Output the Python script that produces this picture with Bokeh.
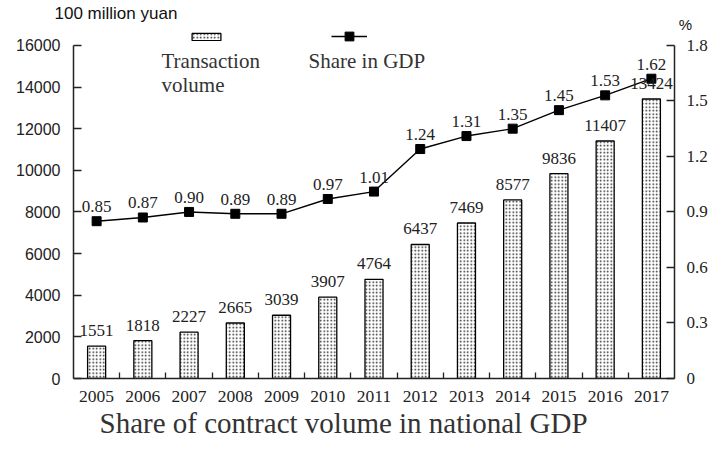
from bokeh.plotting import figure
from bokeh.models import (ColumnDataSource, Range1d, LinearAxis, FixedTicker, LabelSet,
                          Label, Legend, LegendItem, Title)
from bokeh.embed import file_html
from bokeh.resources import INLINE

# ---------------- data ----------------
years = ["2005", "2006", "2007", "2008", "2009", "2010", "2011",
         "2012", "2013", "2014", "2015", "2016", "2017"]
volume = [1551, 1818, 2227, 2665, 3039, 3907, 4764, 6437, 7469, 8577, 9836, 11407, 13424]
share = [0.85, 0.87, 0.90, 0.89, 0.89, 0.97, 1.01, 1.24, 1.31, 1.35, 1.45, 1.53, 1.62]
share_labels = ["0.85", "0.87", "0.90", "0.89", "0.89", "0.97", "1.01",
                "1.24", "1.31", "1.35", "1.45", "1.53", "1.62"]
left_ticks = [0, 2000, 4000, 6000, 8000, 10000, 12000, 14000, 16000]
right_ticks = [0, 0.3, 0.6, 0.9, 1.2, 1.5, 1.8]
right_tick_labels = ["0", "0.3", "0.6", "0.9", "1.2", "1.5", "1.8"]

SERIF = "Liberation Serif"
SANS = "Liberation Sans"

xs = list(range(1, len(years) + 1))
src = ColumnDataSource(dict(x=xs, vol=volume, vol_txt=[str(v) for v in volume],
                            share=share, share_txt=share_labels))

# layout (canvas pixels)
W, H = 708, 438
FL, FR = 73, 674           # frame left / right
FT, FB = 22, 378           # frame top / bottom
AXTOP = 43                 # pixel row of 16000 / 1.8
PX = (FB - AXTOP) / 16000  # px per unit of volume
YMAX = (FB - FT) / PX
RMAX = 1.8 * YMAX / 16000

p = figure(width=W, height=H, output_backend="svg", toolbar_location=None,
           x_range=Range1d(0.5, len(years) + 0.5), y_range=Range1d(0, YMAX),
           min_border_left=FL, min_border_right=W - FR, min_border_top=FT,
           min_border_bottom=H - FB)
p.extra_y_ranges = {"right": Range1d(0, RMAX)}
p.outline_line_color = None
p.xgrid.visible = False
p.ygrid.visible = False
p.background_fill_color = "white"

# unit label at top-left
p.title.text = "100 million yuan"
p.title.align = "left"
p.title.offset = -19
p.title.standoff = 3
p.title.text_font = SANS
p.title.text_font_size = "17px"
p.title.text_font_style = "normal"
p.title.text_color = "#111111"

bars = p.vbar(x="x", top="vol", width=0.39, source=src, fill_color="white",
              line_color="black", line_width=1.3, hatch_pattern="dot",
              hatch_color="#222222", hatch_scale=3.5, hatch_weight=1.0)

ln = p.line(x="x", y="share", source=src, y_range_name="right",
            line_color="black", line_width=1.4)
mk = p.scatter(x="x", y="share", source=src, y_range_name="right", marker="square",
               size=9, fill_color="black", line_color="black")

# ---------- axes ----------
ax_col = "#222222"
xa = p.xaxis[0]
xa.ticker = FixedTicker(ticks=xs, minor_ticks=[i + 0.5 for i in xs[:-1]])
xa.major_label_overrides = {i: y for i, y in zip(xs, years)}
xa.major_tick_in = 0
xa.major_tick_out = 0
xa.minor_tick_in = 6
xa.minor_tick_out = 0
xa.minor_tick_line_color = ax_col
xa.minor_tick_line_width = 1.3
xa.axis_line_color = ax_col
xa.axis_line_width = 1.5
xa.major_label_text_font = SERIF
xa.major_label_text_font_size = "17.5px"
xa.major_label_text_color = "#222222"
xa.major_label_standoff = 12

ya = p.yaxis[0]
ya.ticker = FixedTicker(ticks=left_ticks)
ya.bounds = (0, 16000)
ya.major_label_overrides = {t: str(t) for t in left_ticks}
ya.major_tick_in = 8
ya.major_tick_out = 0
ya.minor_tick_line_color = None
ya.axis_line_color = ax_col
ya.axis_line_width = 1.5
ya.major_tick_line_color = ax_col
ya.major_tick_line_width = 1.3
ya.major_label_text_font = SANS
ya.major_label_text_font_size = "16px"
ya.major_label_text_color = "#222222"
ya.major_label_standoff = 13

ra = LinearAxis(y_range_name="right", ticker=FixedTicker(ticks=right_ticks),
                bounds=(0, 1.8))
ra.major_label_overrides = {t: l for t, l in zip(right_ticks, right_tick_labels)}
ra.major_tick_in = 8
ra.major_tick_out = 0
ra.minor_tick_line_color = None
ra.axis_line_color = ax_col
ra.axis_line_width = 1.5
ra.major_tick_line_color = ax_col
ra.major_tick_line_width = 1.3
ra.major_label_text_font = SERIF
ra.major_label_text_font_size = "17px"
ra.major_label_text_color = "#222222"
ra.major_label_standoff = 12
ra.axis_label = "%"
ra.axis_label_orientation = "horizontal"
ra.axis_label_align = "end"
ra.axis_label_standoff = -32
ra.axis_label_text_font = SANS
ra.axis_label_text_font_size = "15px"
ra.axis_label_text_font_style = "normal"
ra.axis_label_text_color = "#111111"
p.add_layout(ra, "right")

# bottom caption
p.add_layout(Title(text="Share of contract volume in national GDP", align="left", offset=26,
                   text_font=SERIF, text_font_size="29px", text_font_style="normal",
                   text_color="#333333", standoff=0), "below")

# ---------- value labels ----------
p.add_layout(LabelSet(x="x", y="vol", text="vol_txt", source=src, y_offset=10,
                      text_align="center", text_baseline="alphabetic",
                      text_font=SERIF, text_font_size="17px", text_color="#222222"))
p.add_layout(LabelSet(x="x", y="share", text="share_txt", source=src, y_range_name="right",
                      y_offset=9, text_align="center", text_baseline="alphabetic",
                      text_font=SERIF, text_font_size="17px", text_color="#222222"))

# ---------- legend (glyph above text) ----------
leg1 = Legend(items=[LegendItem(label="", renderers=[bars])], location=(115, FB - 41),
              glyph_width=36, glyph_height=9, label_width=0, label_height=0,
              label_standoff=0, padding=0, margin=0, spacing=0,
              border_line_color=None, background_fill_alpha=0)
leg2 = Legend(items=[LegendItem(label="", renderers=[ln, mk])], location=(258, FB - 47),
              glyph_width=36, glyph_height=22, label_width=0, label_height=0,
              label_standoff=0, padding=0, margin=0, spacing=0,
              border_line_color=None, background_fill_alpha=0)
p.add_layout(leg1)
p.add_layout(leg2)

def ypix(py):
    return (FB - py) / PX

def xpix(px):
    return 0.5 + (px - FL) / ((FR - FL) / len(years))

p.add_layout(Label(x=xpix(161), y=ypix(47), text="Transaction\nvolume", text_font=SERIF,
                   text_font_size="21px", text_color="#333333", text_baseline="top",
                   text_align="left", text_line_height=1.0))
p.add_layout(Label(x=xpix(308), y=ypix(47), text="Share in GDP", text_font=SERIF,
                   text_font_size="21px", text_color="#333333", text_baseline="top",
                   text_align="left"))

open("out.html", "w").write(file_html(p, INLINE))
